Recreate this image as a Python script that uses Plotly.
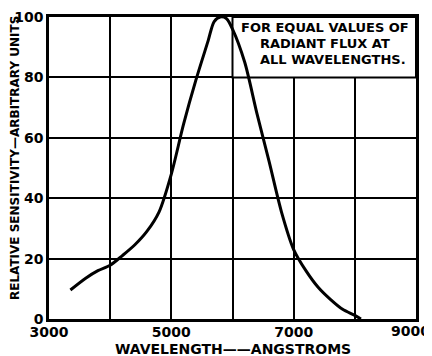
import plotly.graph_objects as go

wavelength = [3350, 3600, 3800, 4000, 4200, 4400, 4600, 4800, 5000, 5200, 5400, 5600,
              5700, 5800, 5900, 6000, 6200, 6400, 6600, 6800, 7000, 7200, 7400, 7600,
              7800, 8000, 8100]
sensitivity = [9.6, 13.5, 16, 17.8, 21, 24.5, 29, 35.5, 48, 64.5, 79, 92,
               98.5, 100, 99.5, 96, 85, 68, 52, 35.5, 23, 16, 10.5, 6.5,
               3.2, 1.2, 0]

x_ticks = [3000, 5000, 7000, 9000]
y_ticks = [0, 20, 40, 60, 80, 100]
note_lines = ["FOR EQUAL VALUES OF", "RADIANT FLUX AT", "ALL WAVELENGTHS."]
x_title = "WAVELENGTH——ANGSTROMS"
y_title = "RELATIVE SENSITIVITY—ARBITRARY UNITS"

FONT = "DejaVu Sans"
BOLD = lambda s: dict(family=FONT, size=s, color="black", weight="bold")

fig = go.Figure()
fig.add_trace(go.Scatter(
    x=wavelength, y=sensitivity, mode="lines",
    line=dict(color="black", width=3, shape="spline", smoothing=0.8),
    showlegend=False, hoverinfo="skip"))

fig.add_shape(type="rect", xref="x", yref="y", x0=6000, x1=9000, y0=80, y1=100,
              fillcolor="white", line=dict(color="black", width=2), layer="between")

# note text, one line per annotation
note_pos = [(7510, 96.4), (7510, 91.1), (7640, 85.8)]
for (nx, ny), txt in zip(note_pos, note_lines):
    fig.add_annotation(x=nx, y=ny, xref="x", yref="y", xanchor="center", yanchor="middle",
                       text=txt, showarrow=False, font=BOLD(13))

# axis titles
fig.add_annotation(x=-0.0926, y=0.533, xref="paper", yref="paper", xanchor="center",
                   yanchor="middle", text=y_title, textangle=-90, showarrow=False,
                   font=BOLD(12))
fig.add_annotation(x=0.5, y=-0.098, xref="paper", yref="paper", xanchor="center",
                   yanchor="middle", text=x_title, showarrow=False, font=BOLD(14))

# last x tick label, kept inside the page
fig.add_annotation(x=1, y=0, xref="paper", yref="paper", xanchor="right", yanchor="top",
                   xshift=16, yshift=-2, text=str(x_ticks[-1]), showarrow=False,
                   font=BOLD(14))

axis_common = dict(showline=True, mirror=True, linecolor="black", linewidth=2.5,
                   gridcolor="black", gridwidth=2, zeroline=False, ticks="")

fig.update_xaxes(range=[3000, 9000], tickvals=x_ticks,
                 ticktext=[str(v) for v in x_ticks[:-1]] + [""],
                 minor=dict(dtick=1000, tick0=3000, showgrid=True, gridcolor="black", gridwidth=2),
                 tickfont=BOLD(14), ticklabelstandoff=-2, automargin=False, **axis_common)
fig.update_yaxes(range=[0, 100], tickvals=y_ticks, ticktext=[str(v) for v in y_ticks],
                 tickfont=BOLD(14), ticklabelstandoff=0, automargin=False, **axis_common)

# the page body has an 8px margin, so the figure is 8px smaller each way
fig.update_layout(width=424, height=348, margin=dict(l=41, r=16, t=9, b=37),
                  plot_bgcolor="white", paper_bgcolor="white")

fig.write_html("out.html")
